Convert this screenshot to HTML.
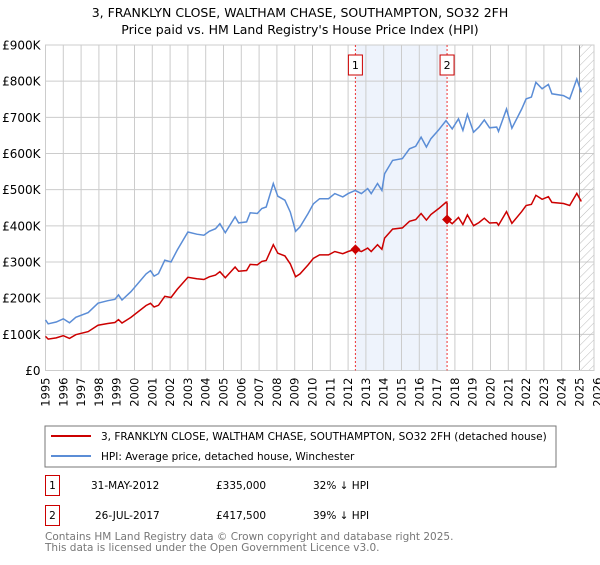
<!DOCTYPE html>
<html><head><meta charset="utf-8"><style>
body{margin:0;background:#fff;font-family:"Liberation Sans","DejaVu Sans",sans-serif;}
svg text{font-family:"DejaVu Sans","Liberation Sans",sans-serif;}
</style></head><body>
<svg id="c" width="600" height="560" xmlns="http://www.w3.org/2000/svg">
<defs><pattern id="hatch" width="6" height="6" patternUnits="userSpaceOnUse" patternTransform="rotate(45)"><line x1="0" y1="0" x2="0" y2="6" stroke="#bbb" stroke-width="1"/></pattern></defs>
<text x="300" y="17" text-anchor="middle" font-size="12.5">3, FRANKLYN CLOSE, WALTHAM CHASE, SOUTHAMPTON, SO32 2FH</text>
<text x="300" y="34" text-anchor="middle" font-size="12.5">Price paid vs. HM Land Registry's House Price Index (HPI)</text>
<g id="plot"></g>
<rect x="45" y="426" width="511" height="41" fill="#fff" stroke="#777"/>
<line x1="51" y1="436" x2="91" y2="436" stroke="#cc0000" stroke-width="2"/>
<text x="101" y="440" font-size="10.5">3, FRANKLYN CLOSE, WALTHAM CHASE, SOUTHAMPTON, SO32 2FH (detached house)</text>
<line x1="51" y1="456" x2="91" y2="456" stroke="#5b8dd6" stroke-width="2"/>
<text x="101" y="460" font-size="10.5">HPI: Average price, detached house, Winchester</text>
<g font-size="10.5">
<rect x="45.5" y="475.5" width="14" height="20" fill="none" stroke="#cc0000"/><text x="52.5" y="489" text-anchor="middle">1</text>
<text x="91" y="489">31-MAY-2012</text><text x="216" y="489">£335,000</text><text x="313" y="489">32% ↓ HPI</text>
<rect x="45.5" y="505.5" width="14" height="20" fill="none" stroke="#cc0000"/><text x="52.5" y="519" text-anchor="middle">2</text>
<text x="95" y="519">26-JUL-2017</text><text x="216" y="519">£417,500</text><text x="313" y="519">39% ↓ HPI</text>
</g>
<text x="45" y="540" font-size="10.5" fill="#777">Contains HM Land Registry data © Crown copyright and database right 2025.</text>
<text x="45" y="551" font-size="10.5" fill="#777">This data is licensed under the Open Government Licence v3.0.</text>
</svg>
<script>
const hpiYears=[1995.0,1995.15,1995.6,1996.0,1996.35,1996.7,1997.4,1997.95,1998.5,1998.9,1999.1,1999.3,1999.8,2000.65,2000.9,2001.1,2001.35,2001.7,2002.05,2002.4,2003.0,2003.5,2003.9,2004.2,2004.55,2004.8,2005.1,2005.65,2005.85,2006.3,2006.5,2006.9,2007.15,2007.4,2007.8,2008.05,2008.45,2008.75,2009.05,2009.3,2009.75,2010.05,2010.4,2010.9,2011.25,2011.7,2012.0,2012.4,2012.75,2013.1,2013.3,2013.65,2013.9,2014.05,2014.5,2015.05,2015.45,2015.8,2016.1,2016.4,2016.65,2017.1,2017.5,2017.85,2018.2,2018.45,2018.7,2019.05,2019.35,2019.65,2019.95,2020.35,2020.45,2020.9,2021.2,2021.75,2022.0,2022.3,2022.55,2022.9,2023.25,2023.45,2024.1,2024.45,2024.85,2025.1];
const hpiValues=[140,129,134,143,132,147,160,186,193,197,209,195,218,267,276,261,268,305,300,333,383,377,374,385,392,406,381,425,408,411,436,434,448,452,517,482,471,438,385,397,434,461,475,475,489,480,489,498,489,503,489,517,498,544,581,586,613,620,645,618,641,666,691,668,696,664,708,659,673,693,671,673,661,723,670,723,751,756,797,779,791,765,760,751,806,769];
const saleYears=[2012.41,2017.56];
const salePrices=[335,417.5];
const saleLabels=["1","2"];
const yTicks=[0,100,200,300,400,500,600,700,800,900];
const yTickLabels=["£0","£100K","£200K","£300K","£400K","£500K","£600K","£700K","£800K","£900K"];
const xTicks=[];for(let y=1995;y<=2026;y++)xTicks.push(y);
const X0=45.5,PX=17.8,XR=594,Y0=370.5,Y1=45,T0=1995,V1=900;
const xs=t=>X0+(t-T0)*PX;
const ys=v=>Y0-v*(Y0-Y1)/V1;
const NS="http://www.w3.org/2000/svg",g=document.getElementById('plot');
function mk(tag,at){const e=document.createElementNS(NS,tag);for(const k in at)e.setAttribute(k,at[k]);g.appendChild(e);return e;}
function hpiAt(t){for(let i=1;i<hpiYears.length;i++){if(t<=hpiYears[i]){const f=(t-hpiYears[i-1])/(hpiYears[i]-hpiYears[i-1]);return hpiValues[i-1]+f*(hpiValues[i]-hpiValues[i-1]);}}return hpiValues[hpiValues.length-1];}
let e=mk('rect',{x:xs(saleYears[0]),y:Y1,width:xs(saleYears[1])-xs(saleYears[0]),height:Y0-Y1,fill:'#eef3fc'});


xTicks.forEach(t=>{if(xs(t)<=XR){const l=mk('line',{x1:xs(t),x2:xs(t),y1:Y1,y2:Y0,stroke:'#cccccc'});

}
const tx=mk('text',{x:0,y:0,'font-size':11.5,'text-anchor':'end',transform:`translate(${xs(t)+4},${Y0+7}) rotate(-90)`});tx.textContent=t;

});
yTicks.forEach((v,i)=>{const l=mk('line',{x1:X0,x2:XR,y1:ys(v),y2:ys(v),stroke:'#cccccc'});


const tx=mk('text',{x:X0-5,y:ys(v)+4.5,'font-size':12,'text-anchor':'end'});tx.textContent=yTickLabels[i];

});
const hs=2025.0;
e=mk('rect',{x:xs(hs),y:Y1,width:XR-xs(hs),height:Y0-Y1,fill:'url(#hatch)'});


e=mk('line',{x1:xs(hs),x2:xs(hs),y1:Y1,y2:Y0,stroke:'#888',"stroke-width":1});


e=mk('rect',{x:X0,y:Y1,width:XR-X0,height:Y0-Y1,fill:'none',stroke:'#cccccc'});


saleYears.forEach((s,i)=>{const l=mk('line',{x1:xs(s),x2:xs(s),y1:Y1,y2:Y0,stroke:'#ee3333','stroke-dasharray':'2,2'});


const r=mk('rect',{x:xs(s)-7,y:55,width:14,height:20,fill:'#fff',stroke:'#cc0000'});


const tx=mk('text',{x:xs(s),y:69,'font-size':11,'text-anchor':'middle'});tx.textContent=saleLabels[i];

});
let d=hpiYears.map((t,i)=>(i?'L':'M')+xs(t).toFixed(1)+','+ys(hpiValues[i]).toFixed(1)).join('');
e=mk('path',{d:d,fill:'none',stroke:'#5b8dd6','stroke-width':1.5});


const f1=salePrices[0]/hpiAt(saleYears[0]),f2=salePrices[1]/hpiAt(saleYears[1]);
let pts=[];
hpiYears.forEach((t,i)=>{if(t<saleYears[1])pts.push([t,hpiValues[i]*f1]);});
pts.push([saleYears[1]-0.001,hpiAt(saleYears[1])*f1]);
pts.push([saleYears[1],salePrices[1]]);
hpiYears.forEach((t,i)=>{if(t>saleYears[1])pts.push([t,hpiValues[i]*f2]);});
d=pts.map((p,i)=>(i?'L':'M')+xs(p[0]).toFixed(1)+','+ys(p[1]).toFixed(1)).join('');
e=mk('path',{d:d,fill:'none',stroke:'#cc0000','stroke-width':1.5});


saleYears.forEach((s,i)=>{const c=mk('path',{d:`M${xs(s)},${ys(salePrices[i])-5}l5,5l-5,5l-5,-5z`,fill:'#cc0000'});

});
</script>
</body></html>
